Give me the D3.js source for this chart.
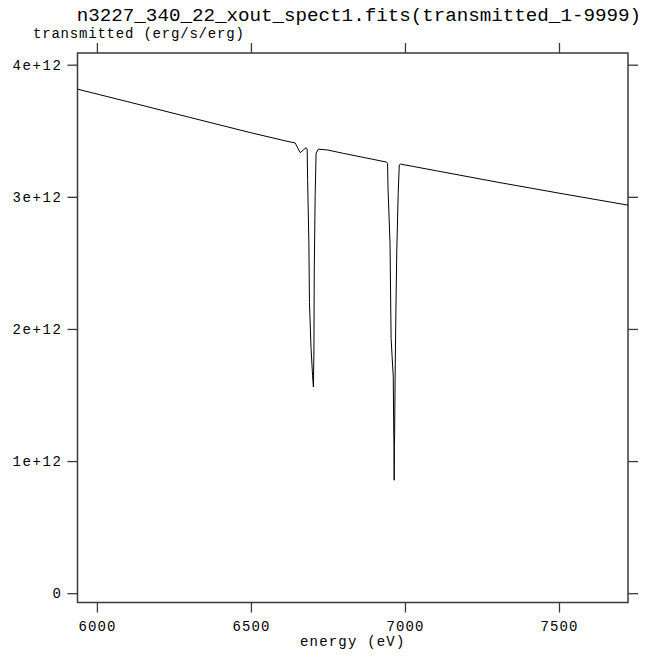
<!DOCTYPE html>
<html>
<head>
<meta charset="utf-8">
<script src="https://cdn.jsdelivr.net/npm/d3@7"></script>
<style>
  html, body { margin: 0; padding: 0; background: #fff; }
  svg { display: block; }
  .lbl { font-family: "Liberation Mono", "DejaVu Sans Mono", monospace; fill: #000; }
</style>
</head>
<body>
<svg id="chart" width="646" height="657"></svg>
<script>
// Transmitted spectrum around the Fe K band (flux in units of 1e12 erg/s/erg)
const energyEV = [
  5937, 6100, 6300, 6500, 6620, 6643.5, 6660, 6679,
  6682.5, 6684, 6688, 6690, 6695, 6700, 6702.8, 6704.5, 6705.5, 6708.5, 6711.5, 6719,
  6750, 6800, 6900, 6940,
  6943.5, 6945, 6951.5, 6955, 6962, 6963.6, 6964.5, 6965, 6965.5, 6966.5, 6968, 6970.5, 6973.5, 6978, 6981.5, 6985,
  7100, 7300, 7500, 7724
];
const fluxE12 = [
  3.815, 3.720, 3.602, 3.485, 3.419, 3.408, 3.334, 3.372,
  3.360, 3.130, 2.660, 2.200, 1.860, 1.650, 1.560, 1.840, 2.430, 3.010, 3.330, 3.361,
  3.354, 3.329, 3.282, 3.263,
  3.253, 3.064, 2.647, 1.928, 1.637, 1.209, 1.120, 0.855, 1.120, 1.211, 1.625, 2.129, 2.597, 3.026, 3.241, 3.248,
  3.198, 3.111, 3.028, 2.937
];

const xDomain = [5937, 7724];
const yDomain = [-0.0704, 4.0886];
const xTicks = [6000, 6500, 7000, 7500];
const yTicks = [0, 1, 2, 3, 4];
const yTickLabels = ["0", "1e+12", "2e+12", "3e+12", "4e+12"];

const titleText = "n3227_340_22_xout_spect1.fits(transmitted_1-9999)";
const yAxisTitle = "transmitted (erg/s/erg)";
const xAxisTitle = "energy (eV)";

const svg = d3.select("#chart");
const plot = { left: 77.5, right: 628, top: 53, bottom: 602.5 };

const x = d3.scaleLinear().domain(xDomain).range([plot.left, plot.right]);
const y = d3.scaleLinear().domain(yDomain).range([plot.bottom, plot.top]);

const tickLen = 10;
const axisColor = "#3a3a3a";

function styleAxis(g) {
  g.select(".domain").remove();
  g.selectAll(".tick line").attr("stroke", axisColor).attr("stroke-width", 1.3);
  g.selectAll(".tick text")
    .attr("class", "lbl")
    .style("font-size", "14px")
    .style("letter-spacing", "1.1px");
}

// bottom axis with labels
svg.append("g")
  .attr("transform", `translate(0,${plot.bottom})`)
  .call(d3.axisBottom(x).tickValues(xTicks).tickSize(tickLen).tickPadding(8.5).tickFormat(d3.format("d")))
  .call(styleAxis)
  .call(g => g.selectAll(".tick text").attr("dy", "0.71em"));

// top axis, ticks only
svg.append("g")
  .attr("transform", `translate(0,${plot.top})`)
  .call(d3.axisTop(x).tickValues(xTicks).tickSize(tickLen).tickFormat(""))
  .call(styleAxis);

// left axis with labels
svg.append("g")
  .attr("transform", `translate(${plot.left},0)`)
  .call(d3.axisLeft(y).tickValues(yTicks).tickSize(tickLen).tickPadding(5).tickFormat((d, i) => yTickLabels[i]))
  .call(styleAxis)
  .call(g => g.selectAll(".tick text").style("letter-spacing", "1.6px"));

// right axis, ticks only
svg.append("g")
  .attr("transform", `translate(${plot.right},0)`)
  .call(d3.axisRight(y).tickValues(yTicks).tickSize(tickLen).tickFormat(""))
  .call(styleAxis);

// frame
svg.append("rect")
  .attr("x", plot.left).attr("y", plot.top)
  .attr("width", plot.right - plot.left).attr("height", plot.bottom - plot.top)
  .attr("fill", "none").attr("stroke", axisColor).attr("stroke-width", 1.5);

// spectrum
const pts = energyEV.map((e, i) => [e, fluxE12[i]]);
svg.append("path")
  .datum(pts)
  .attr("fill", "none")
  .attr("stroke", "#000")
  .attr("stroke-width", 1)
  .attr("d", d3.line().x(d => x(d[0])).y(d => y(d[1])));

// titles
svg.append("text").attr("class", "lbl")
  .attr("x", 641).attr("y", 21).attr("text-anchor", "end")
  .style("font-size", "19.2px")
  .text(titleText);

svg.append("text").attr("class", "lbl")
  .attr("x", 33).attr("y", 38)
  .style("font-size", "14px").style("letter-spacing", "0.8px")
  .text(yAxisTitle);

svg.append("text").attr("class", "lbl")
  .attr("x", (plot.left + plot.right) / 2).attr("y", 646).attr("text-anchor", "middle")
  .style("font-size", "14px").style("letter-spacing", "1.2px")
  .text(xAxisTitle);
</script>
</body>
</html>
